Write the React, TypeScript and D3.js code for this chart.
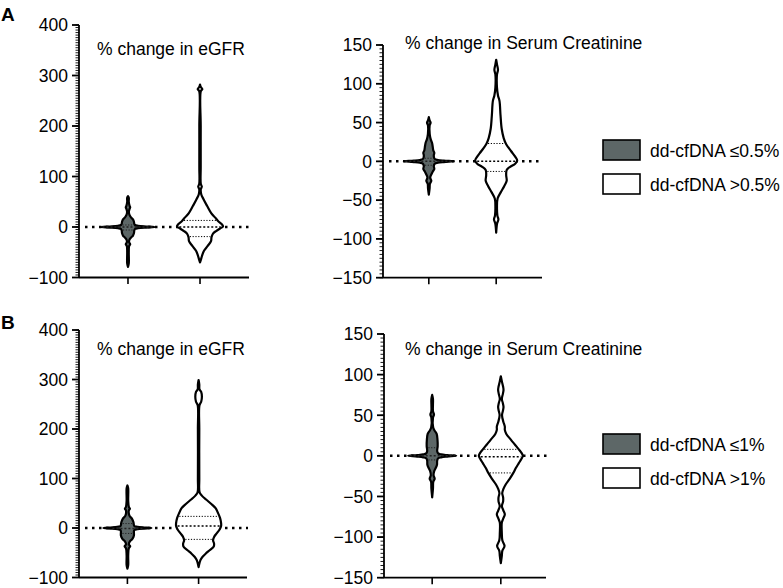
import React from "react";
import * as d3 from "d3";

type P = [number, number]; // [value, half-width in px]

const groups = ["low", "high"];
const eGFRTicks = [-100, 0, 100, 200, 300, 400];
const creatTicks = [-150, -100, -50, 0, 50, 100, 150];
const titleEGFR = "% change in eGFR";
const titleCreat = "% change in Serum Creatinine";
const legendLabelsA = ["dd-cfDNA \u22640.5%", "dd-cfDNA >0.5%"];
const legendLabelsB = ["dd-cfDNA \u22641%", "dd-cfDNA >1%"];
const panelLetters = ["A", "B"];

// Violin density profiles (value, half-width)
const eGFRLowA: P[] = [[61,0],[58,0.8],[50,0.8],[42,1.6],[39,2.2],[36,1.6],[30,0.9],[24,1.5],[19,3],[15,5],[10,6],[6,6.3],[4,7],[2.5,10],[1.2,16],[0,27],[-1.2,16],[-2.5,10],[-4,7],[-7,6.3],[-12,6],[-17,5],[-21,3],[-25,1.5],[-30,1.1],[-34,2.2],[-38,1.1],[-50,0.8],[-72,0.8],[-79,0]];
const eGFRHighA: P[] = [[282,0],[277,0.8],[273,2.3],[269,0.8],[200,0.7],[120,0.7],[85,0.8],[80,1.8],[75,0.8],[65,1.2],[55,3.5],[42,7],[28,11],[19,15],[12,18],[5,22],[1,23],[-3,20],[-8,16],[-13,13],[-20,11.5],[-28,11],[-38,7.5],[-47,4],[-57,2],[-64,1],[-70,0]];
const creatLowA: P[] = [[57,0],[53,0.8],[50,1.8],[46,0.8],[35,0.9],[28,2],[24,3.2],[18,4],[14,4.5],[11,5.5],[8,5],[5,5.2],[3,6],[1.8,9],[0.9,15],[0,25],[-0.9,15],[-1.8,9],[-3,6],[-6,5],[-10,5.5],[-13,4],[-17,2.5],[-21,1.4],[-25,2.5],[-29,1.1],[-35,0.8],[-43,0]];
const creatHighA: P[] = [[131,0],[125,0.8],[118,1.8],[112,0.8],[95,0.8],[85,1.8],[78,3.3],[60,4.3],[42,5.5],[30,7.5],[22,10],[13,15],[6,19],[1,21],[-3,19],[-7,14],[-11,10.5],[-18,10],[-25,10.5],[-32,8],[-40,4.5],[-48,1.4],[-60,0.8],[-70,1.2],[-75,2.2],[-80,0.9],[-92,0]];
const eGFRLowB: P[] = [[86,0],[80,0.8],[55,0.8],[42,1.5],[39,2.5],[36,1.5],[25,2],[19,4.5],[12,6],[6,6.5],[4,7],[2.5,10],[1.2,15],[0,24],[-1.2,15],[-2.5,10],[-4,7],[-7,6.5],[-15,6.5],[-22,5],[-27,2.5],[-33,1.4],[-37,2.8],[-41,1.4],[-55,0.8],[-75,0.8],[-82,0]];
const eGFRHighB: P[] = [[299,0],[290,0.7],[280,0.9],[275,2.6],[265,3.3],[255,2.6],[248,0.9],[200,0.7],[100,0.7],[72,1],[66,3],[60,6],[55,9],[48,13],[40,17],[30,19.5],[20,21.5],[10,22.5],[4,22.5],[-3,21],[-10,18.5],[-18,15.5],[-25,14.5],[-32,15.5],[-38,15],[-45,11],[-52,7],[-58,4],[-64,2],[-70,1],[-79,0]];
const creatLowB: P[] = [[75,0],[70,0.8],[55,0.8],[51,1.8],[47,0.8],[35,1],[31,2.5],[27,4.5],[20,5.3],[12,5.5],[6,5],[3,6],[1.8,9],[0.9,15],[0,24],[-0.9,15],[-1.8,9],[-3,6],[-6,5],[-11,4.8],[-15,3.5],[-19,2],[-24,1.4],[-28,2.5],[-32,1.1],[-40,0.8],[-51,0]];
const creatHighB: P[] = [[98,0],[92,1],[85,2.3],[81,2.7],[76,2],[70,1],[65,2],[60,2.7],[55,2],[50,1.2],[42,2.5],[36,4],[32,4],[27,5.5],[20,10],[14,14],[8,18],[3,21],[0,22],[-4,20.5],[-9,18],[-15,15],[-21,12.5],[-28,9],[-35,5],[-41,2.5],[-46,1.4],[-51,2.3],[-56,2.3],[-62,1.1],[-67,2.5],[-72,4],[-77,2.5],[-82,1],[-95,1],[-104,1.5],[-111,3.7],[-117,1.5],[-123,1],[-132,0]];

// Quartiles [Q1, median, Q3]
const qEGFRLowA = [-6, 0, 4];
const qEGFRHighA = [-19, 0, 13];
const qCreatLowA = [-5, 0, 4];
const qCreatHighA = [-13, 0, 23];
const qEGFRLowB = [-11, -1, 9];
const qEGFRHighB = [-23, 4, 23.5];
const qCreatLowB = [-5, 0, 10];
const qCreatHighB = [-21, -1, 8];

const FONT = "'Liberation Sans', Arial, Helvetica, sans-serif";
const GRAY = "#5d6767";

function widthAt(profile: P[], v: number): number {
  for (let i = 0; i < profile.length - 1; i++) {
    const [a, wa] = profile[i];
    const [b, wb] = profile[i + 1];
    if (v <= a && v >= b) {
      const t = a === b ? 0 : (a - v) / (a - b);
      return wa + t * (wb - wa);
    }
  }
  return 0;
}

interface ViolinSpec { profile: P[]; quart: number[]; fill: string; }
interface PanelProps {
  axisX: number; endX: number; yTop: number; yBottom: number;
  domain: [number, number]; ticks: number[]; minorStep: number;
  title: string; titleX: number; titleY: number; violins: ViolinSpec[];
  shift?: number;
}

function Panel(p: PanelProps) {
  const y = d3.scaleLinear().domain(p.domain).range([p.yBottom, p.yTop]);
  const x = d3.scalePoint<string>().domain(groups).range([p.axisX + (p.shift || 0), p.endX + (p.shift || 0)]).padding(0.68);
  const w = d3.scaleLinear().domain([0, 1]).range([0, 1]);
  const minor = d3.range(p.domain[0], p.domain[1] + 0.001, p.minorStep);
  const fmt = d3.format("");
  return (
    <g>
      <line x1={p.axisX + 6} x2={p.endX + 1} y1={y(0)} y2={y(0)} stroke="#000" strokeWidth={2.5} strokeDasharray="2.5,4.5" />
      {p.violins.map((v, i) => {
        const cx = x(groups[i])!;
        const area = d3.area<P>()
          .y(d => y(d[0]))
          .x0(d => cx - w(d[1]))
          .x1(d => cx + w(d[1]))
          .curve(d3.curveCatmullRom.alpha(0.5));
        return (
          <g key={i}>
            <path d={area(v.profile) || ""} fill={v.fill} stroke="#000" strokeWidth={2.2} strokeLinejoin="round" />
            {v.quart.map((q, j) => {
              const hw = w(widthAt(v.profile, q));
              return (
                <line key={j} x1={cx - hw + 1.5} x2={cx + hw - 1.5} y1={y(q)} y2={y(q)}
                  stroke={v.fill === "#fff" ? "#000" : "#222"}
                  strokeWidth={j === 1 ? 1.5 : 1}
                  strokeDasharray={j === 1 ? "2,2" : "1.2,1.6"} />
              );
            })}
          </g>
        );
      })}
      <line x1={p.axisX} x2={p.axisX} y1={p.yTop} y2={p.yBottom} stroke="#000" strokeWidth={1.8} />
      {minor.map((t, i) => (
        <line key={"m" + i} x1={p.axisX - 3.5} x2={p.axisX} y1={y(t)} y2={y(t)} stroke="#000" strokeWidth={0.9} />
      ))}
      {p.ticks.map((t, i) => (
        <g key={"t" + i}>
          <line x1={p.axisX - 7} x2={p.axisX} y1={y(t)} y2={y(t)} stroke="#000" strokeWidth={1.8} />
          <text x={p.axisX - 11} y={y(t)} dy="0.36em" textAnchor="end" fontFamily={FONT} fontSize={17.5}>{fmt(t)}</text>
        </g>
      ))}
      <line x1={p.axisX} x2={p.endX} y1={p.yBottom} y2={p.yBottom} stroke="#000" strokeWidth={1.8} />
      {groups.map(g => (
        <line key={g} x1={x(g)} x2={x(g)} y1={p.yBottom} y2={p.yBottom + 6.5} stroke="#000" strokeWidth={1.6} />
      ))}
      <text x={p.titleX} y={p.titleY} fontFamily={FONT} fontSize={17.5}>{p.title}</text>
    </g>
  );
}

function Legend({ x, y, labels }: { x: number; y: number; labels: string[] }) {
  const fills = [GRAY, "#fff"];
  return (
    <g>
      {labels.map((l, i) => (
        <g key={i}>
          <rect x={x} y={y + i * 34} width={37} height={20} fill={fills[i]} stroke="#000" strokeWidth={1.6} />
          <text x={x + 47} y={y + i * 34 + 16.5} fontFamily={FONT} fontSize={17.5}>{l}</text>
        </g>
      ))}
    </g>
  );
}

export default function App() {
  return (
    <svg width={783} height={588} style={{ position: "absolute", left: 0, top: 0, background: "#fff" }}>
      <rect width={783} height={588} fill="#fff" />
      <text x={1} y={20.5} fontFamily={FONT} fontSize={19} fontWeight="bold">{panelLetters[0]}</text>
      <text x={1} y={328.5} fontFamily={FONT} fontSize={19} fontWeight="bold">{panelLetters[1]}</text>
      <Panel axisX={79} endX={249} yTop={25} yBottom={277.5} domain={[-100, 400]} ticks={eGFRTicks} minorStep={5}
        title={titleEGFR} titleX={97} titleY={54.5}
        violins={[{ profile: eGFRLowA, quart: qEGFRLowA, fill: GRAY }, { profile: eGFRHighA, quart: qEGFRHighA, fill: "#fff" }]} />
      <Panel axisX={383} endX={542} yTop={45} yBottom={277.7} domain={[-150, 150]} ticks={creatTicks} minorStep={5}
        title={titleCreat} titleX={405} titleY={49}
        violins={[{ profile: creatLowA, quart: qCreatLowA, fill: GRAY }, { profile: creatHighA, quart: qCreatHighA, fill: "#fff" }]} />
      <Panel axisX={79} endX={247} yTop={330} yBottom={577.5} domain={[-100, 400]} ticks={eGFRTicks} minorStep={5}
        title={titleEGFR} titleX={97} titleY={354.5}
        violins={[{ profile: eGFRLowB, quart: qEGFRLowB, fill: GRAY }, { profile: eGFRHighB, quart: qEGFRHighB, fill: "#fff" }]} />
      <Panel axisX={384} endX={546} yTop={334} yBottom={577.7} domain={[-150, 150]} ticks={creatTicks} minorStep={5}
        title={titleCreat} titleX={405} titleY={355} shift={1.5}
        violins={[{ profile: creatLowB, quart: qCreatLowB, fill: GRAY }, { profile: creatHighB, quart: qCreatHighB, fill: "#fff" }]} />
      <Legend x={603} y={140} labels={legendLabelsA} />
      <Legend x={603} y={434} labels={legendLabelsB} />
    </svg>
  );
}
